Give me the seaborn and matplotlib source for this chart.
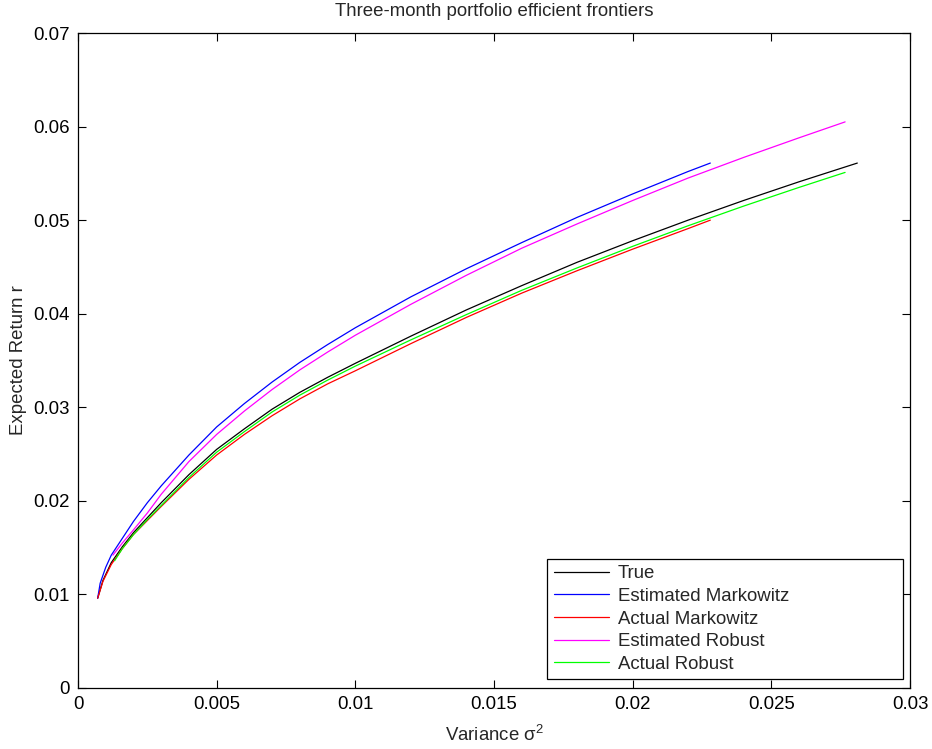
import matplotlib
matplotlib.use("Agg")
import matplotlib.pyplot as plt
import seaborn as sns
import pandas as pd

# ---- data ----
true_x = [0.00071, 0.0009, 0.0012, 0.0016, 0.002, 0.0025, 0.003, 0.004, 0.005, 0.006, 0.007, 0.008,
          0.009, 0.010, 0.012, 0.014, 0.016, 0.018, 0.020, 0.022, 0.024, 0.026, 0.0281]
true_y = [0.0096, 0.0115, 0.0134, 0.0151, 0.0166, 0.0182, 0.0198, 0.0228, 0.0255, 0.0277, 0.0298, 0.0316,
          0.0332, 0.0347, 0.0376, 0.0404, 0.0430, 0.0455, 0.0478, 0.0500, 0.0521, 0.0541, 0.0561]

est_mk_x = [0.00071, 0.0008, 0.001, 0.0012, 0.0016, 0.002, 0.0025, 0.003, 0.004, 0.005, 0.006, 0.007,
            0.008, 0.009, 0.010, 0.012, 0.014, 0.016, 0.018, 0.020, 0.022, 0.0228]
est_mk_y = [0.0096, 0.0112, 0.0129, 0.0142, 0.0160, 0.0178, 0.0198, 0.0216, 0.0249, 0.0279, 0.0304, 0.0327,
            0.0348, 0.0367, 0.0385, 0.0418, 0.0448, 0.0476, 0.0503, 0.0528, 0.0552, 0.0561]

act_mk_x = [0.00071, 0.0009, 0.0012, 0.0016, 0.002, 0.0025, 0.003, 0.004, 0.005, 0.006, 0.007, 0.008,
            0.009, 0.010, 0.012, 0.014, 0.016, 0.018, 0.020, 0.022, 0.0228]
act_mk_y = [0.0096, 0.0114, 0.0132, 0.0149, 0.0164, 0.0179, 0.0194, 0.0223, 0.0249, 0.0271, 0.0291, 0.0309,
            0.0325, 0.0339, 0.0368, 0.0396, 0.0422, 0.0446, 0.0469, 0.0491, 0.0500]

est_rb_x = [0.00126, 0.0016, 0.002, 0.0025, 0.003, 0.004, 0.005, 0.006, 0.007, 0.008, 0.009, 0.010,
            0.012, 0.014, 0.016, 0.018, 0.020, 0.022, 0.024, 0.026, 0.02766]
est_rb_y = [0.0142, 0.0155, 0.0169, 0.0187, 0.0207, 0.0242, 0.0271, 0.0296, 0.0319, 0.0340, 0.0359, 0.0377,
            0.0410, 0.0441, 0.0470, 0.0496, 0.0521, 0.0545, 0.0567, 0.0588, 0.0605]

act_rb_x = [0.00132, 0.0016, 0.002, 0.0025, 0.003, 0.004, 0.005, 0.006, 0.007, 0.008, 0.009, 0.010,
            0.012, 0.014, 0.016, 0.018, 0.020, 0.022, 0.024, 0.026, 0.02766]
act_rb_y = [0.0136, 0.0149, 0.0164, 0.0180, 0.0195, 0.0225, 0.0252, 0.0274, 0.0295, 0.0313, 0.0329, 0.0344,
            0.0372, 0.0399, 0.0425, 0.0449, 0.0472, 0.0494, 0.0515, 0.0535, 0.0551]

series_names = ["True", "Estimated Markowitz", "Actual Markowitz", "Estimated Robust", "Actual Robust"]
series_colors = ["#000000", "#0000ff", "#ff0000", "#ff00ff", "#00ff00"]

x_ticks = [0, 0.005, 0.01, 0.015, 0.02, 0.025, 0.03]
x_ticklabels = ["0", "0.005", "0.01", "0.015", "0.02", "0.025", "0.03"]
y_ticks = [0, 0.01, 0.02, 0.03, 0.04, 0.05, 0.06, 0.07]
y_ticklabels = ["0", "0.01", "0.02", "0.03", "0.04", "0.05", "0.06", "0.07"]

title = "Three-month portfolio efficient frontiers"
xlabel = r"Variance $\mathrm{\sigma}^2$"
ylabel = "Expected Return r"

# ---- build frame ----
all_x = [true_x, est_mk_x, act_mk_x, est_rb_x, act_rb_x]
all_y = [true_y, est_mk_y, act_mk_y, est_rb_y, act_rb_y]
frames = []
for name, xs, ys in zip(series_names, all_x, all_y):
    frames.append(pd.DataFrame({"variance": xs, "ret": ys, "series": name}))
df = pd.concat(frames, ignore_index=True)

# ---- style ----
sns.set_style("white")
plt.rcParams["font.family"] = ["Liberation Sans", "DejaVu Sans"]
plt.rcParams["mathtext.fontset"] = "custom"
plt.rcParams["mathtext.rm"] = "Liberation Sans"
plt.rcParams["mathtext.it"] = "Liberation Sans"
fs = 13.4

fig = plt.figure(figsize=(9.32, 7.49), dpi=100)
ax = fig.add_axes([78 / 932, 1 - 688 / 749, (910 - 78) / 932, (688 - 33) / 749])

for name, color in zip(series_names, series_colors):
    sub = df[df["series"] == name]
    sns.lineplot(data=sub, x="variance", y="ret", ax=ax, color=color, label=name,
                 sort=False, estimator=None, linewidth=0.9)

ax.set_xlim(0, 0.03)
ax.set_ylim(0, 0.07)
ax.set_xticks(x_ticks)
ax.set_xticklabels(x_ticklabels, fontsize=fs)
ax.set_yticks(y_ticks)
ax.set_yticklabels(y_ticklabels, fontsize=fs)
ax.tick_params(direction="in", length=6, width=0.8, top=True, right=True,
               bottom=True, left=True, pad=6, colors="black")
for s in ax.spines.values():
    s.set_visible(True)
    s.set_color("black")
    s.set_linewidth(0.9)

ax.set_xlabel(xlabel, fontsize=fs, labelpad=8)
ax.set_ylabel(ylabel, fontsize=fs, labelpad=4)
ax.set_title(title, fontsize=fs, pad=12)

leg = ax.legend(loc="lower left", bbox_to_anchor=(0.5637, 0.0133, 0.4279, 0.176),
                mode="expand", fontsize=fs, frameon=True, fancybox=False,
                edgecolor="black", framealpha=1, handlelength=3.0,
                handletextpad=0.45, labelspacing=0.3, borderpad=0.35,
                borderaxespad=0.0)
leg.get_frame().set_linewidth(0.9)

fig.savefig("out.png", dpi=100)
